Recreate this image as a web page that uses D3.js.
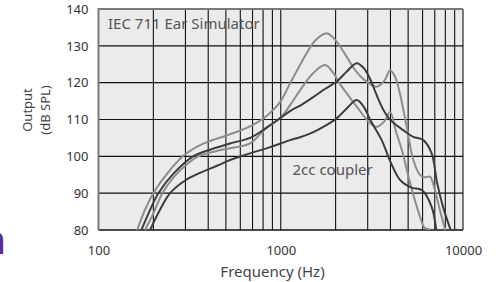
<!DOCTYPE html>
<html><head><meta charset="utf-8">
<script src="https://cdn.jsdelivr.net/npm/d3@7"></script>
<style>
html,body{margin:0;padding:0;background:#fff;}
svg{display:block;font-family:"Noto Sans",sans-serif;}
</style></head>
<body><svg id="c" width="502" height="282"></svg>
<script>
// ---- data ----
const xTickValues = [100, 1000, 10000];
const yTickValues = [80, 90, 100, 110, 120, 130, 140];
const xGridValues = [200,300,400,500,600,700,800,900,1000,2000,3000,4000,5000,6000,7000,8000,9000,10000];
const yGridValues = [90, 100, 110, 120, 130];

// IEC 711 Ear Simulator (light gray) and 2cc coupler (dark) responses: [Hz, dB SPL]
const earSimA = [[163,80],[180,85.5],[200,90],[240,95.5],[290,100],[350,102.7],[400,104],[500,105.6],[600,107],[700,108.5],[800,110.2],[900,112.4],[1000,115],[1125,119.8],[1250,124],[1387,128],[1550,131.5],[1787,133.4],[2000,131.5],[2300,127],[2600,123],[2965,120.2],[3360,118.9],[3700,120.5],[3980,123.4],[4250,121.5],[4510,117],[4910,108],[5340,99],[5800,95],[6200,94.3],[6590,94.5],[7000,91],[7500,85],[8100,79]];
const earSimB = [[180,80],[200,84.5],[224,90],[260,94.5],[300,97.5],[353,100],[450,101.5],[527,102.2],[678,103.5],[837,107.8],[1000,110.5],[1125,113.9],[1300,118.5],[1500,122.5],[1749,124.8],[1950,122.5],[2100,119.8],[2350,116.5],[2610,113.5],[3090,109],[3360,108],[3700,109.5],[3980,112],[4300,106.5],[4620,101.7],[5130,92.7],[5810,83.6],[6170,80.5],[6500,80.2],[6800,78]];
const couplerC = [[172,80],[190,85],[213,90],[260,95.5],[331,100],[420,102],[527,103.5],[678,105],[837,107.8],[1000,110.5],[1125,112.3],[1300,114],[1500,116],[1711,118],[2027,120.3],[2300,123],[2610,125.3],[2850,124],[3090,121],[3400,116],[3660,112.6],[3990,109.9],[4700,107.1],[5330,105.3],[6060,104.4],[6730,100.8],[7200,93],[7800,86],[8700,79]];
const couplerD = [[192,80],[215,85],[247,90],[300,93.5],[360,95.5],[450,97.5],[527,99],[678,100.8],[850,102.3],[1000,103.5],[1125,104.4],[1276,105.2],[1500,106.5],[1711,108],[2027,110.3],[2300,113],[2610,115.3],[2850,113.5],[3090,110],[3580,104.4],[4000,98.5],[4510,93.6],[5200,91.5],[5930,90.9],[6730,86.3],[7170,79]];
const seriesList = [
  {name:"earA", data:earSimA, color:"#8c8c8c"},
  {name:"earB", data:earSimB, color:"#8c8c8c"},
  {name:"cplC", data:couplerC, color:"#3c3c3c"},
  {name:"cplD", data:couplerD, color:"#3c3c3c"}
];

// ---- layout ----
const svg = d3.select("#c");
const L = 98.5, R = 463, T = 9, B = 230;
const x = d3.scaleLog().domain([100, 10000]).range([L, R]);
const y = d3.scaleLinear().domain([80, 140]).range([B, T]);

// purple fragment at far left
svg.append("text").attr("x", 6).attr("y", 254).attr("text-anchor","end")
  .attr("font-size", 40).attr("font-weight", 600).attr("fill", "#5d2d91").text("n");

svg.append("rect").attr("x", L).attr("y", T).attr("width", R-L).attr("height", B-T).attr("fill", "#ebebeb");

svg.append("g").selectAll("line").data(xGridValues).join("line")
  .attr("x1", d=>x(d)).attr("x2", d=>x(d)).attr("y1", T).attr("y2", B)
  .attr("stroke", "#111").attr("stroke-width", 1.1);
svg.append("g").selectAll("line").data(yGridValues).join("line")
  .attr("x1", L).attr("x2", R).attr("y1", d=>y(d)).attr("y2", d=>y(d))
  .attr("stroke", "#111").attr("stroke-width", 1.1);
svg.append("line").attr("x1", L).attr("x2", R).attr("y1", B).attr("y2", B).attr("stroke","#111").attr("stroke-width",1.5);
svg.append("path").attr("d", `M${L},${B}V${T}H${R}`).attr("fill","none").attr("stroke","#7a7a7a").attr("stroke-width",2);

svg.append("defs").append("clipPath").attr("id","clip").append("rect")
  .attr("x", L).attr("y", T).attr("width", R-L).attr("height", B-T);

const line = d3.line().x(d=>x(d[0])).y(d=>y(d[1])).curve(d3.curveCatmullRom.alpha(0.5));
svg.append("g").attr("clip-path","url(#clip)").selectAll("path").data(seriesList).join("path")
  .attr("d", d=>line(d.data)).attr("fill","none").attr("stroke", d=>d.color).attr("stroke-width", 2);

// annotations
svg.append("text").attr("x", 108).attr("y", 29).attr("font-size", 15).attr("fill","#555").text("IEC 711 Ear Simulator");
svg.append("text").attr("x", 292.5).attr("y", 175).attr("font-size", 15).attr("fill","#555").text("2cc coupler");

// axes
const yAxis = d3.axisLeft(y).tickValues(yTickValues).tickSize(0).tickPadding(10).tickFormat(d3.format("d"));
const gy = svg.append("g").attr("transform", `translate(${L},0)`).call(yAxis);
gy.select(".domain").remove();
gy.selectAll("text").attr("font-size", 13).attr("fill", "#333").attr("font-family","Noto Sans");

const xAxis = d3.axisBottom(x).tickValues(xTickValues).tickSize(0).tickPadding(16).tickFormat(d3.format("d"));
const gx = svg.append("g").attr("transform", `translate(0,${B})`).call(xAxis);
gx.select(".domain").remove();
gx.selectAll("text").attr("font-size", 13).attr("fill", "#333").attr("font-family","Noto Sans");

svg.append("text").attr("x", 272.5).attr("y", 277).attr("text-anchor","middle")
  .attr("font-size", 15).attr("fill","#444").text("Frequency (Hz)");

const yl = svg.append("text").attr("transform","translate(0,110) rotate(-90)").attr("text-anchor","middle")
  .attr("font-size", 13).attr("fill","#444");
yl.append("tspan").attr("x",0).attr("y",32).text("Output");
yl.append("tspan").attr("x",0).attr("y",50).text("(dB SPL)");
</script></body></html>
